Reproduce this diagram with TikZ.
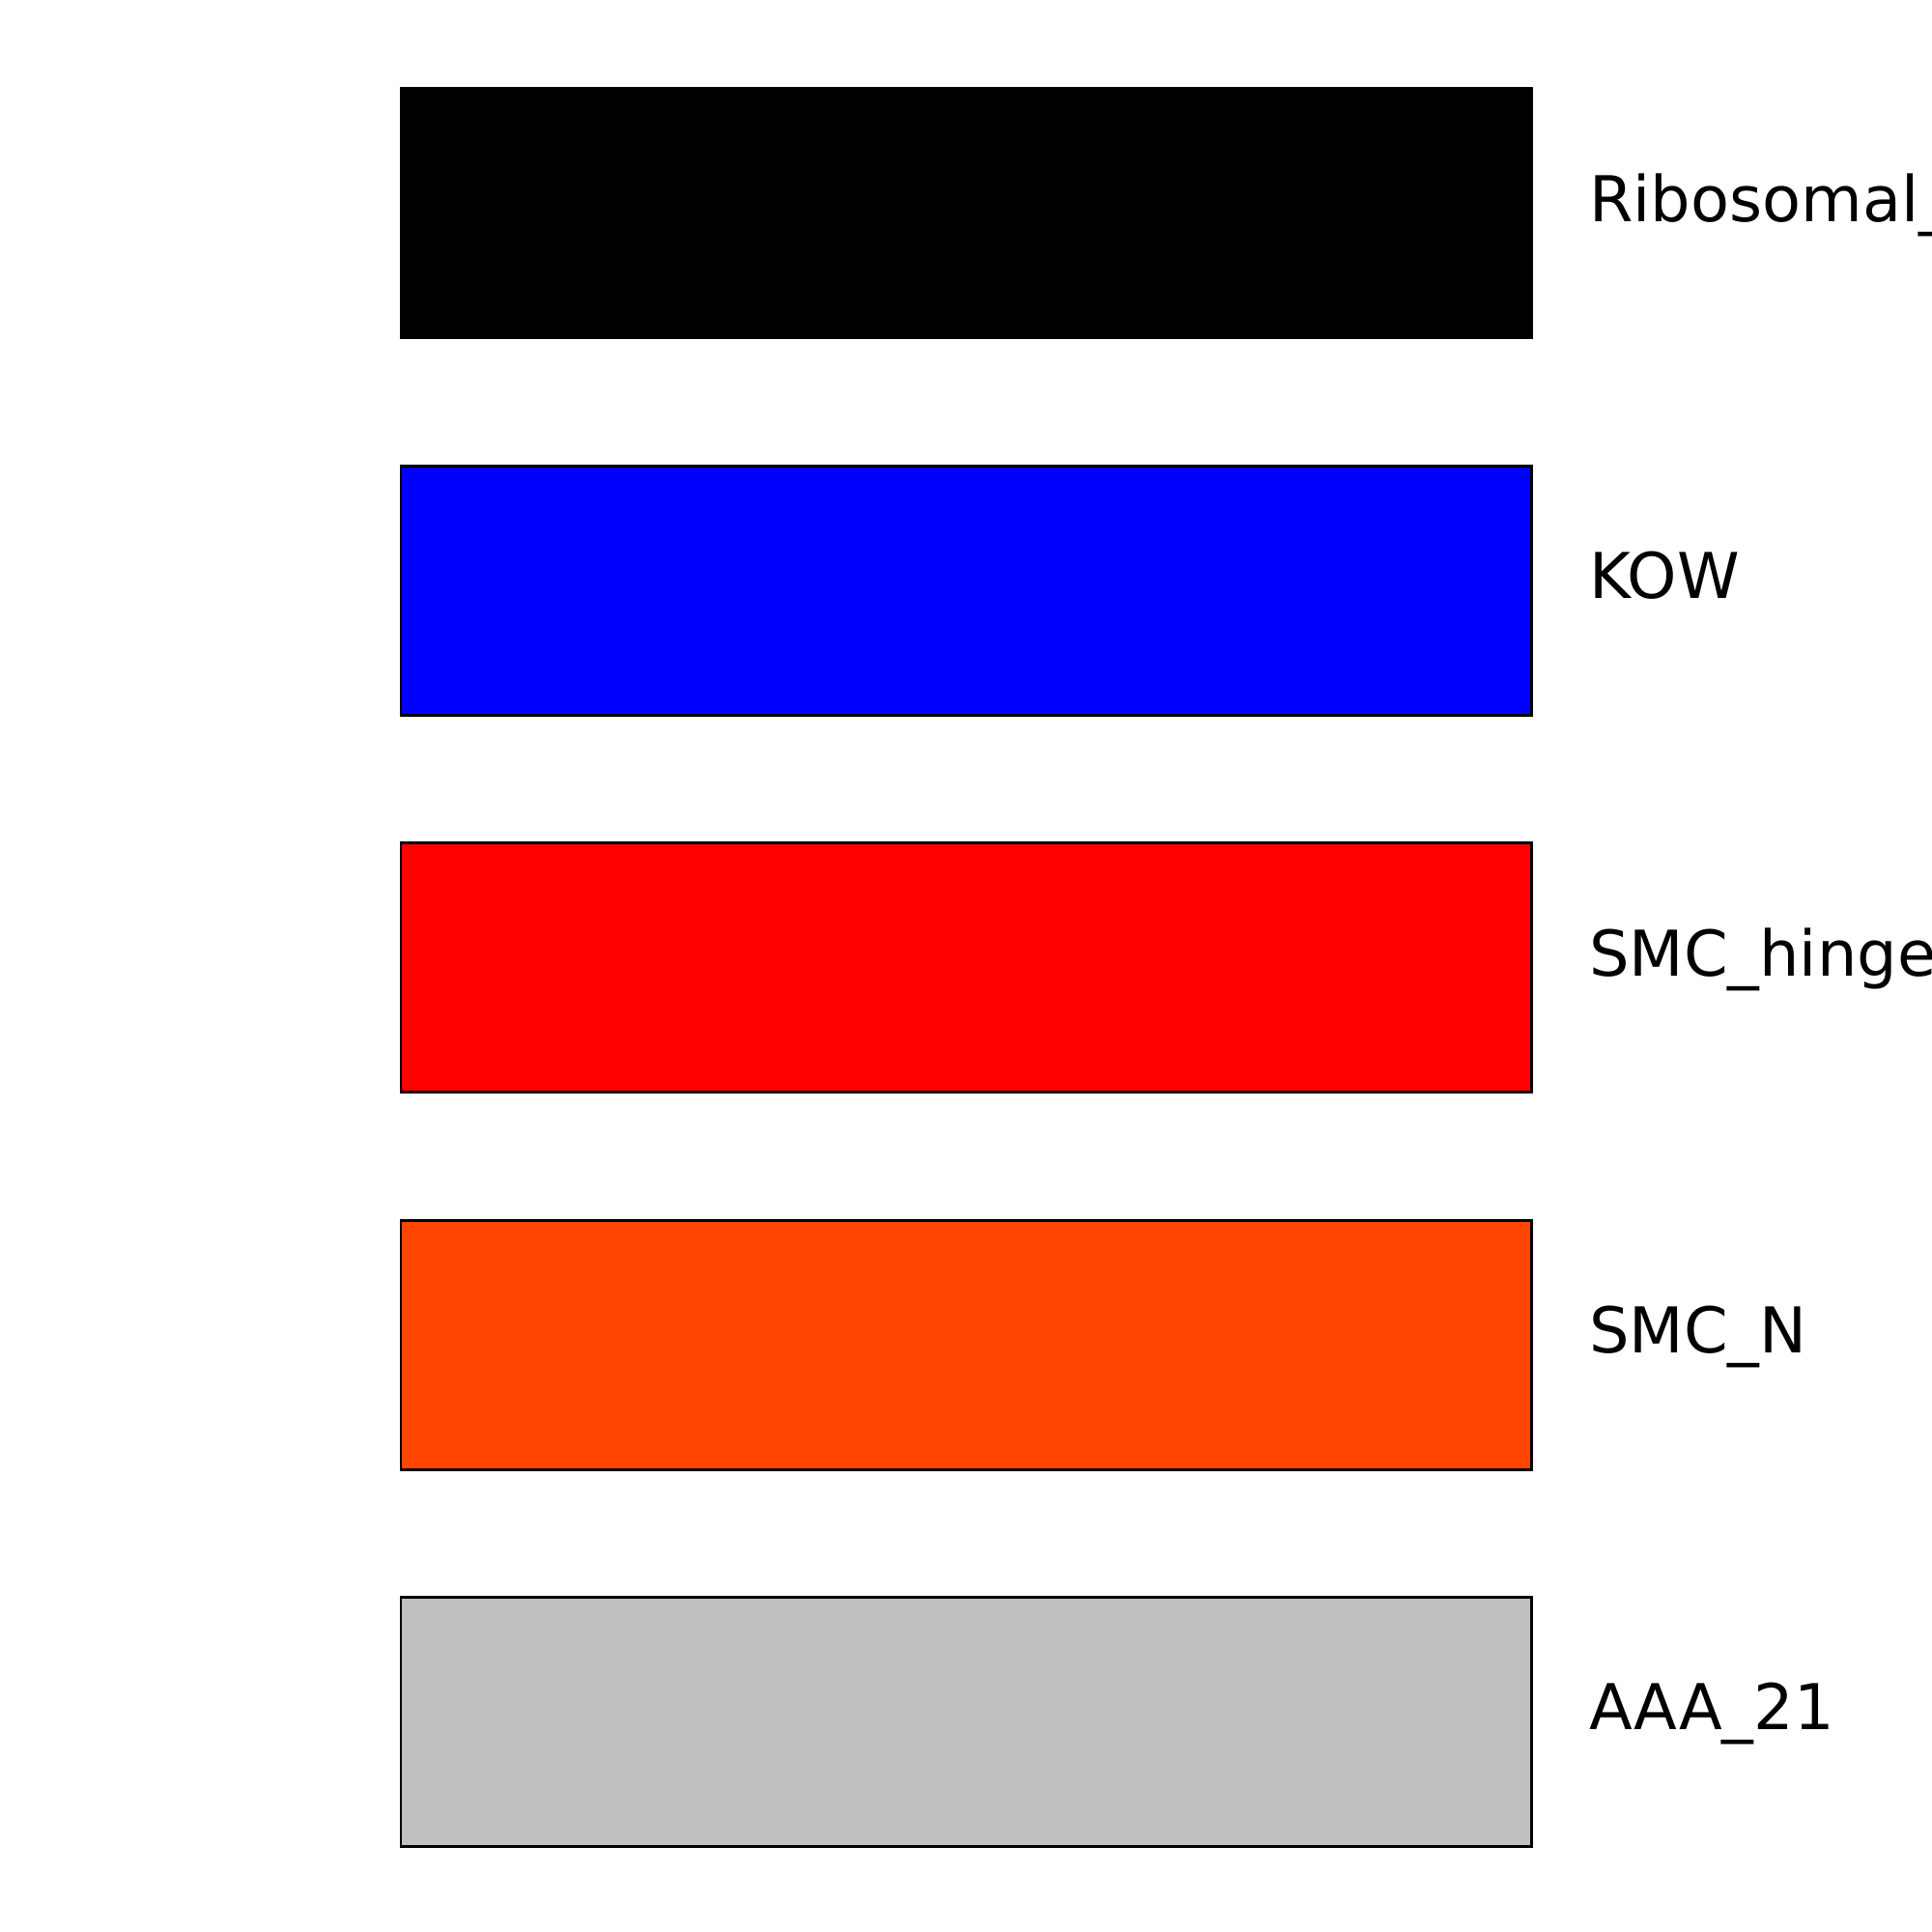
\documentclass[tikz,border=0pt]{standalone}
\usepackage{fontspec}
\setmainfont{DejaVu Sans}
\usepackage{xcolor}
\usepackage{tikz}
\usetikzlibrary{positioning}
\definecolor{orangered}{HTML}{FF4500}
\definecolor{silvergray}{HTML}{C0C0C0}
\tikzset{
  dombox/.style={
    rectangle, draw=black, line width=0.85pt,
    minimum width=11.70cm, minimum height=2.58cm,
    inner sep=0pt,
  },
  domlabel/.style={
    inner sep=0pt, text height=0.82em, text depth=0.34em,
    font=\fontsize{18.6pt}{22pt}\selectfont,
  },
}

\begin{document}
\begin{tikzpicture}[
  node distance=1.294cm and 0.58cm,
]
  \useasboundingbox (0,0) rectangle (20,20);
  \clip (0,0) rectangle (20,20);

  % Domain boxes
  \node[dombox, fill=black] (ribo) at (10,17.79) {};
  \node[dombox, fill=blue, below=of ribo]       (kow)   {};
  \node[dombox, fill=red, below=of kow]         (hinge) {};
  \node[dombox, fill=orangered, below=of hinge] (smcn)  {};
  \node[dombox, fill=silvergray, below=of smcn] (aaa)   {};

  % Labels
  \node[domlabel, right=of ribo]  (ribolbl)  {Ribosomal\_L};
  \node[domlabel, right=of kow]   (kowlbl)   {KOW};
  \node[domlabel, right=of hinge] (hingelbl) {SMC\_hinge};
  \node[domlabel, right=of smcn]  (smcnlbl)  {SMC\_N};
  \node[domlabel, right=of aaa]   (aaalbl)   {AAA\_21};

\end{tikzpicture}
\end{document}
